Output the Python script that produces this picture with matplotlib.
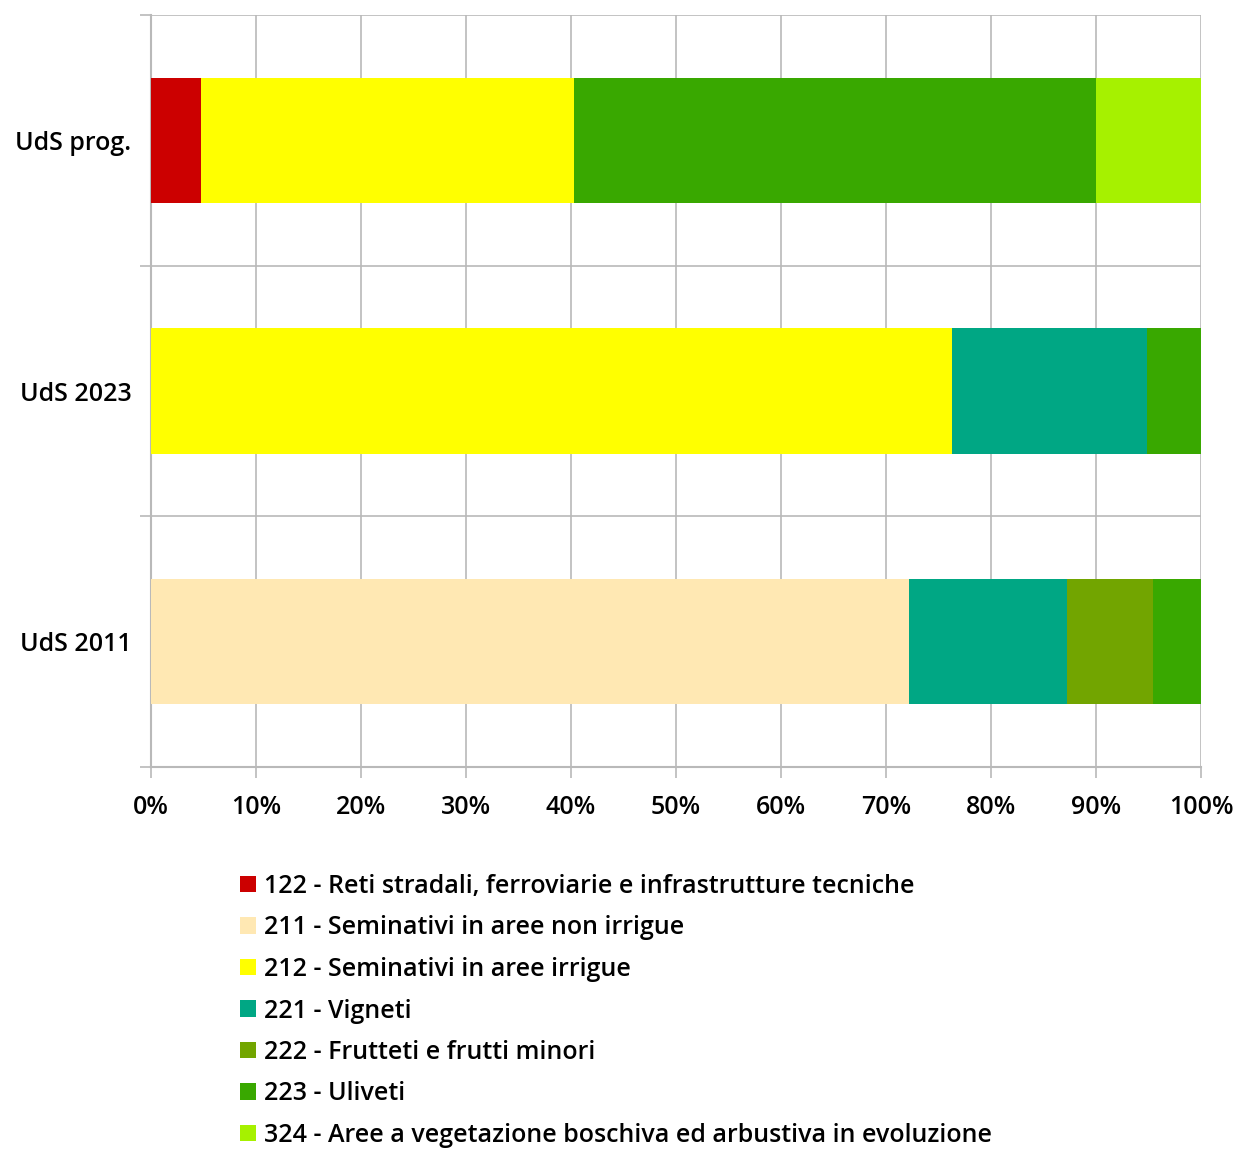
import matplotlib
matplotlib.use('Agg')
import matplotlib.pyplot as plt
from matplotlib.ticker import PercentFormatter, FixedLocator

plt.rcParams['font.family'] = ['Open Sans', 'DejaVu Sans']
plt.rcParams['font.weight'] = 'semibold'

categories = ['UdS 2011', 'UdS 2023', 'UdS prog.']
series_labels = [
    '122 - Reti stradali, ferroviarie e infrastrutture tecniche',
    '211 - Seminativi in aree non irrigue',
    '212 - Seminativi in aree irrigue',
    '221 - Vigneti',
    '222 - Frutteti e frutti minori',
    '223 - Uliveti',
    '324 - Aree a vegetazione boschiva ed arbustiva in evoluzione',
]
# shares (%) per category: UdS 2011, UdS 2023, UdS prog.
v122 = [0.0, 0.0, 4.8]
v211 = [72.2, 0.0, 0.0]
v212 = [0.0, 76.3, 35.5]
v221 = [15.0, 18.6, 0.0]
v222 = [8.2, 0.0, 0.0]
v223 = [4.6, 5.1, 49.7]
v324 = [0.0, 0.0, 10.0]
values = [v122, v211, v212, v221, v222, v223, v324]
colors = ['#cc0000', '#ffe8b3', '#ffff00', '#00a784', '#72a500', '#39a800', '#a6f100']

fig = plt.figure(figsize=(12.35, 11.49), dpi=100)
ax = fig.add_axes([151 / 1235, 1 - 767 / 1149, 1050 / 1235, 752 / 1149])

y = list(range(len(categories)))
left = [0.0] * len(categories)
handles = []
for vals, col, lab in zip(values, colors, series_labels):
    b = ax.barh(y, vals, left=left, height=0.5, color=col, label=lab, zorder=3)
    handles.append(b)
    left = [l + v for l, v in zip(left, vals)]

ax.set_xlim(0, 100)
ax.set_ylim(-0.5, 2.5)
ax.set_xticks(range(0, 101, 10))
ax.xaxis.set_major_formatter(PercentFormatter(100, decimals=0))
ax.set_yticks(y)
ax.set_yticklabels(categories)
ax.yaxis.set_minor_locator(FixedLocator([-0.5, 0.5, 1.5, 2.5]))

grid_c = '#b9b9b9'
ax.grid(axis='x', color=grid_c, linewidth=1.2, zorder=0)
ax.grid(axis='y', which='minor', color=grid_c, linewidth=1.2, zorder=0)
ax.tick_params(axis='y', which='major', length=0, pad=14, labelsize=18, colors='black')
ax.tick_params(axis='y', which='minor', length=8, width=1.2, color=grid_c)
ax.tick_params(axis='x', length=8, width=1.2, color=grid_c, pad=12, labelsize=18, labelcolor='black')

for s in ['top', 'right']:
    ax.spines[s].set_visible(False)
for s in ['left', 'bottom']:
    ax.spines[s].set_color(grid_c)
    ax.spines[s].set_linewidth(1.5)

fig.legend(handles=handles, loc='upper left', bbox_to_anchor=(240 / 1235, 1 - 874 / 1149),
           frameon=False, fontsize=18, borderpad=0, borderaxespad=0,
           labelspacing=0.66, handlelength=0.64, handleheight=0.64, handletextpad=0.3)

fig.savefig('out.png', dpi=100)
